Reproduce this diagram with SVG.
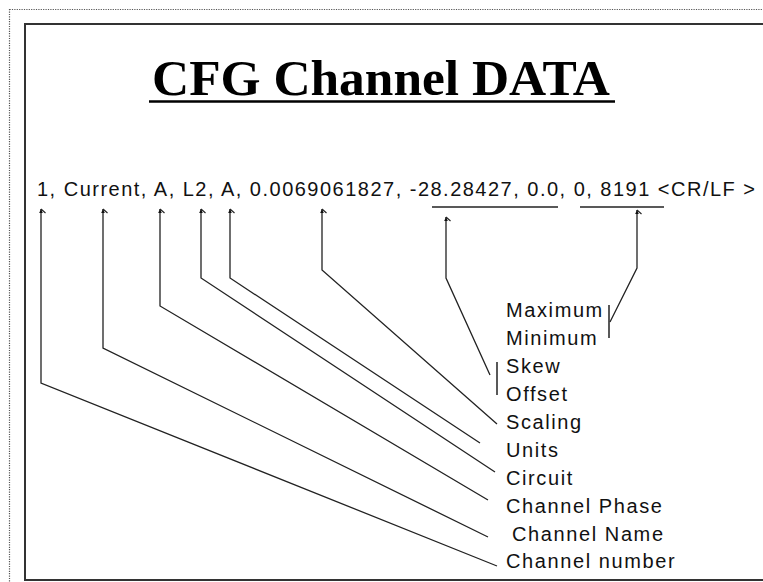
<svg xmlns="http://www.w3.org/2000/svg" width="763" height="582" viewBox="0 0 763 582">
  <style>
    .title { font-family: "Liberation Serif", "Times New Roman", serif; font-weight: bold; font-size: 50px; fill: #000; }
    .data { font-family: "Liberation Sans", Arial, sans-serif; font-size: 20px; fill: #111; }
    .lbl { font-family: "Liberation Sans", Arial, sans-serif; font-size: 20px; letter-spacing: 1.6px; fill: #111; }
    .conn { fill: none; stroke: #222; stroke-width: 1.3; marker-end: url(#tip); }
    .bar { stroke: #222; stroke-width: 1.5; fill: none; }
  </style>
  <defs>
    <marker id="tip" markerUnits="userSpaceOnUse" markerWidth="12" markerHeight="12" refX="0" refY="0" viewBox="-6 -6 12 12" orient="auto" overflow="visible">
      <path d="M0,0 L-4,-1.8 L-4,1.8 Z" fill="#111"/>
      <path d="M0,0 L-4,4.5" stroke="#222" stroke-width="1.1" fill="none"/>
    </marker>
  </defs>
  <rect width="763" height="582" fill="#fff"/>
  <rect x="9.5" y="9.5" width="770" height="590" fill="none" stroke="#555" stroke-width="1.2" stroke-dasharray="1.2 1.2"/>
  <rect x="25" y="24" width="760" height="556" fill="none" stroke="#333" stroke-width="2"/>

  <g id="title">
    <text class="title" x="152" y="95" textLength="458" lengthAdjust="spacingAndGlyphs">CFG Channel DATA</text>
    <line x1="149" y1="101.5" x2="615" y2="101.5" stroke="#000" stroke-width="2.6"/>
  </g>

  <g id="record">
    <text class="data" x="37" y="196" textLength="718" lengthAdjust="spacing">1, Current, A, L2, A, 0.0069061827, -28.28427, 0.0, 0, 8191  &lt;CR/LF &gt;</text>
    <line class="bar" x1="432" y1="207" x2="558" y2="207"/>
    <line class="bar" x1="580" y1="207" x2="664" y2="207"/>
  </g>

  <g id="labels">
    <g id="maximum"><text class="lbl" x="506" y="317">Maximum</text></g>
    <g id="minimum"><text class="lbl" x="506" y="345">Minimum</text></g>
    <g id="skew"><text class="lbl" x="506" y="373">Skew</text></g>
    <g id="offset"><text class="lbl" x="506" y="401">Offset</text></g>
    <g id="scaling"><text class="lbl" x="506" y="429">Scaling</text></g>
    <g id="units"><text class="lbl" x="506" y="457">Units</text></g>
    <g id="circuit"><text class="lbl" x="506" y="485">Circuit</text></g>
    <g id="channel-phase"><text class="lbl" x="506" y="513">Channel Phase</text></g>
    <g id="channel-name"><text class="lbl" x="512" y="541">Channel Name</text></g>
    <g id="channel-number"><text class="lbl" x="506" y="568">Channel number</text></g>
  </g>

  <g id="connectors">
    <polyline class="conn" points="497,566 41,383 41,209"/>
    <polyline class="conn" points="488,537 103,348 103,209"/>
    <polyline class="conn" points="488,500 160,306 160,209"/>
    <polyline class="conn" points="495,472 201,278 201,209"/>
    <polyline class="conn" points="480,443 230,278 230,209"/>
    <polyline class="conn" points="497,424 322,270 322,209"/>
    <polyline class="conn" points="490,375 446,278 446,217"/>
    <polyline class="conn" points="610,322 637,268 637,210"/>
    <line class="bar" x1="497" y1="362" x2="497" y2="395"/>
    <line class="bar" x1="609" y1="305" x2="609" y2="338"/>
  </g>
</svg>
